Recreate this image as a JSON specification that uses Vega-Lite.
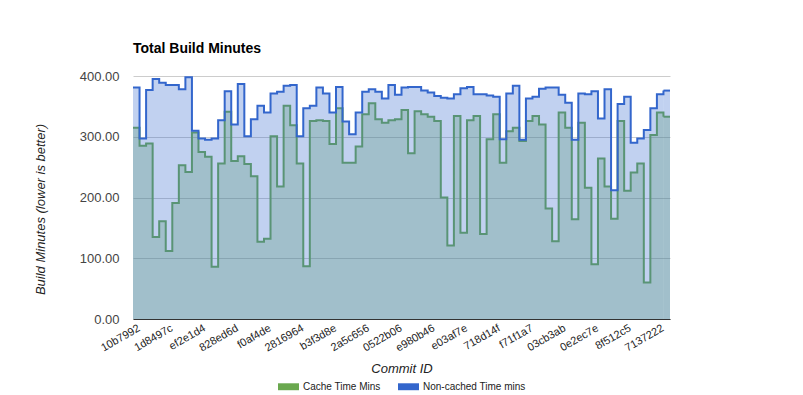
{
  "$schema": "https://vega.github.io/schema/vega-lite/v6.json",
  "width": 537,
  "height": 243,
  "autosize": {"type": "none"},
  "padding": {"left": 133, "top": 76, "right": 133, "bottom": 76},
  "background": "white",
  "config": {"view": {"stroke": null}, "font": "Liberation Sans"},
  "title": {"text": "Total Build Minutes", "anchor": "start", "frame": "group", "font": "Liberation Sans", "fontSize": 14, "fontWeight": "bold", "color": "#000000", "baseline": "alphabetic", "offset": 3},
  "data": {"values": [
    {"commit": "10b7992", "cache": 315, "noncache": 381},
    {"commit": "a3f41c8", "cache": 285, "noncache": 297},
    {"commit": "5e2d9b0", "cache": 289, "noncache": 377},
    {"commit": "c71a6f4", "cache": 135, "noncache": 395},
    {"commit": "9d03e2a", "cache": 161, "noncache": 389},
    {"commit": "1d8497c", "cache": 112, "noncache": 385},
    {"commit": "4b6c0e1", "cache": 191, "noncache": 385},
    {"commit": "e8a2f37", "cache": 253, "noncache": 378},
    {"commit": "72d5b19", "cache": 242, "noncache": 398},
    {"commit": "0c9e4a6", "cache": 307, "noncache": 310},
    {"commit": "ef2e1d4", "cache": 275, "noncache": 297},
    {"commit": "b58a3c2", "cache": 267, "noncache": 295},
    {"commit": "3f17d6e", "cache": 86, "noncache": 297},
    {"commit": "d60b8a9", "cache": 256, "noncache": 327},
    {"commit": "8e4c21f", "cache": 341, "noncache": 375},
    {"commit": "828ed6d", "cache": 260, "noncache": 320},
    {"commit": "61a9f03", "cache": 268, "noncache": 387},
    {"commit": "c2e7b54", "cache": 255, "noncache": 301},
    {"commit": "9a0d3e7", "cache": 235, "noncache": 329},
    {"commit": "47f6c12", "cache": 127, "noncache": 351},
    {"commit": "f0af4de", "cache": 132, "noncache": 340},
    {"commit": "2b83e9a", "cache": 301, "noncache": 371},
    {"commit": "d4c17f0", "cache": 218, "noncache": 374},
    {"commit": "a91e5b6", "cache": 351, "noncache": 384},
    {"commit": "5c3d802", "cache": 319, "noncache": 385},
    {"commit": "2816964", "cache": 256, "noncache": 301},
    {"commit": "e7b40a3", "cache": 87, "noncache": 347},
    {"commit": "0f5c9d1", "cache": 326, "noncache": 351},
    {"commit": "b6a28e4", "cache": 327, "noncache": 381},
    {"commit": "43d1f7c", "cache": 326, "noncache": 371},
    {"commit": "b3f3d8e", "cache": 288, "noncache": 340},
    {"commit": "7a6e0c5", "cache": 347, "noncache": 382},
    {"commit": "c98b2d1", "cache": 257, "noncache": 325},
    {"commit": "16f4a7e", "cache": 257, "noncache": 304},
    {"commit": "f2c05b9", "cache": 284, "noncache": 340},
    {"commit": "2a5c656", "cache": 337, "noncache": 374},
    {"commit": "8d7e3a0", "cache": 355, "noncache": 378},
    {"commit": "5b19c4f", "cache": 329, "noncache": 374},
    {"commit": "a0e6d82", "cache": 323, "noncache": 363},
    {"commit": "3c4f9b7", "cache": 327, "noncache": 385},
    {"commit": "0522b06", "cache": 329, "noncache": 369},
    {"commit": "d9a7e13", "cache": 344, "noncache": 381},
    {"commit": "6e2b8c0", "cache": 273, "noncache": 382},
    {"commit": "94f3a5d", "cache": 342, "noncache": 382},
    {"commit": "c1d80e6", "cache": 337, "noncache": 376},
    {"commit": "e980b46", "cache": 333, "noncache": 373},
    {"commit": "7f25c9a", "cache": 326, "noncache": 367},
    {"commit": "b4e13d8", "cache": 200, "noncache": 364},
    {"commit": "2d6a7f0", "cache": 121, "noncache": 363},
    {"commit": "58c0e92", "cache": 334, "noncache": 370},
    {"commit": "e03af7e", "cache": 142, "noncache": 380},
    {"commit": "a6d49b3", "cache": 327, "noncache": 382},
    {"commit": "1e8c5f7", "cache": 334, "noncache": 370},
    {"commit": "f5b270d", "cache": 140, "noncache": 370},
    {"commit": "83a6e1c", "cache": 296, "noncache": 368},
    {"commit": "718d14f", "cache": 337, "noncache": 366},
    {"commit": "c3e9a05", "cache": 257, "noncache": 296},
    {"commit": "4a7d2b8", "cache": 309, "noncache": 371},
    {"commit": "9f0c6e3", "cache": 315, "noncache": 384},
    {"commit": "d25b81a", "cache": 293, "noncache": 295},
    {"commit": "f71f1a7", "cache": 326, "noncache": 363},
    {"commit": "6c84d2e", "cache": 334, "noncache": 366},
    {"commit": "b1a3f59", "cache": 320, "noncache": 379},
    {"commit": "e4d07c6", "cache": 182, "noncache": 381},
    {"commit": "57b9e2a", "cache": 128, "noncache": 381},
    {"commit": "03cb3ab", "cache": 340, "noncache": 369},
    {"commit": "a8f2d61", "cache": 315, "noncache": 356},
    {"commit": "3d5e0b9", "cache": 164, "noncache": 295},
    {"commit": "c6a14f7", "cache": 323, "noncache": 371},
    {"commit": "91e8d3c", "cache": 216, "noncache": 370},
    {"commit": "0e2ec7e", "cache": 90, "noncache": 375},
    {"commit": "f4b6a28", "cache": 264, "noncache": 330},
    {"commit": "28d9c5e", "cache": 218, "noncache": 378},
    {"commit": "b7e03a1", "cache": 165, "noncache": 212},
    {"commit": "6a15f8d", "cache": 326, "noncache": 354},
    {"commit": "8f512c5", "cache": 211, "noncache": 366},
    {"commit": "d3c7e40", "cache": 241, "noncache": 290},
    {"commit": "4e0a9b6", "cache": 256, "noncache": 297},
    {"commit": "a2f58d3", "cache": 60, "noncache": 311},
    {"commit": "e6b3c17", "cache": 303, "noncache": 347},
    {"commit": "7137222", "cache": 340, "noncache": 370},
    {"commit": "c59d2e8", "cache": 333, "noncache": 376}
  ]},
  "encoding": {
    "x": {
      "field": "commit", "type": "nominal", "sort": null, "bandPosition": 0,
      "scale": {"type": "band", "paddingInner": 0, "paddingOuter": 0},
      "axis": {
        "values": ["10b7992", "1d8497c", "ef2e1d4", "828ed6d", "f0af4de", "2816964", "b3f3d8e", "2a5c656", "0522b06", "e980b46", "e03af7e", "718d14f", "f71f1a7", "03cb3ab", "0e2ec7e", "8f512c5", "7137222"],
        "title": "Commit ID", "titleFont": "Liberation Sans", "titleFontStyle": "italic", "titleFontWeight": "normal", "titleFontSize": 13, "titleColor": "#222222", "titleY": 49, "titleBaseline": "middle",
        "labelAngle": -30, "labelAlign": "right", "labelBaseline": "top", "labelFont": "Liberation Sans", "labelFontSize": 11, "labelColor": "#222222", "labelPadding": 3, "labelOverlap": false,
        "ticks": false, "domain": true, "domainColor": "#333333", "domainWidth": 1, "grid": false
      }
    }
  },
  "layer": [
    {
      "mark": {"type": "area", "interpolate": "step-after", "opacity": 0.3},
      "encoding": {
        "y": {"field": "cache", "type": "quantitative", "scale": {"domain": [0, 400]},
          "axis": {"values": [0, 100, 200, 300, 400], "format": ".2f", "title": "Build Minutes (lower is better)", "titleFont": "Liberation Sans", "titleFontStyle": "italic", "titleFontWeight": "normal", "titleFontSize": 13, "titleColor": "#222222", "titleX": -93, "titleY": 133, "titleAngle": -90, "titleBaseline": "middle", "titleAlign": "center", "labelFont": "Liberation Sans", "labelFontSize": 13, "labelColor": "#444444", "labelPadding": 14, "ticks": false, "domain": false, "grid": true, "gridColor": "#cccccc", "gridWidth": 1}},
        "color": {"datum": "Cache Time Mins", "type": "nominal",
          "scale": {"domain": ["Cache Time Mins", "Non-cached Time mins"], "range": ["#6aa84f", "#3366cc"]},
          "legend": {"orient": "none", "legendX": 145, "legendY": 300, "direction": "horizontal", "title": null, "symbolType": "M-1,-0.33H1V0.33H-1Z", "symbolSize": 441, "symbolStrokeWidth": 0, "symbolOpacity": 1, "labelFont": "Liberation Sans", "labelFontSize": 10, "labelColor": "#222222", "labelOffset": 4, "columnPadding": 17, "padding": 0,
            "encode": {"symbols": {"update": {"opacity": {"value": 1}, "fillOpacity": {"value": 1}, "strokeWidth": {"value": 0}}}}}}
      }
    },
    {
      "transform": [{"filter": {"field": "commit", "equal": "c59d2e8"}}],
      "mark": {"type": "bar", "color": "#6aa84f", "opacity": 0.3},
      "encoding": {
        "x": {"field": "commit", "type": "nominal", "sort": null, "scale": {"type": "band", "paddingInner": 0, "paddingOuter": 0}},
        "y": {"field": "cache", "type": "quantitative"}
      }
    },
    {
      "mark": {"type": "line", "interpolate": "step-after", "color": "#6aa84f", "strokeWidth": 2},
      "encoding": {"y": {"field": "cache", "type": "quantitative"}}
    },
    {
      "transform": [{"filter": {"field": "commit", "equal": "c59d2e8"}}],
      "mark": {"type": "tick", "orient": "horizontal", "color": "#6aa84f", "thickness": 2, "size": 6.55, "opacity": 1},
      "encoding": {
        "x": {"field": "commit", "type": "nominal", "sort": null, "scale": {"type": "band", "paddingInner": 0, "paddingOuter": 0}},
        "y": {"field": "cache", "type": "quantitative"}
      }
    },
    {
      "mark": {"type": "area", "interpolate": "step-after", "opacity": 0.3},
      "encoding": {
        "y": {"field": "noncache", "type": "quantitative"},
        "color": {"datum": "Non-cached Time mins", "type": "nominal"}
      }
    },
    {
      "transform": [{"filter": {"field": "commit", "equal": "c59d2e8"}}],
      "mark": {"type": "bar", "color": "#3366cc", "opacity": 0.3},
      "encoding": {
        "x": {"field": "commit", "type": "nominal", "sort": null, "scale": {"type": "band", "paddingInner": 0, "paddingOuter": 0}},
        "y": {"field": "noncache", "type": "quantitative"}
      }
    },
    {
      "mark": {"type": "line", "interpolate": "step-after", "color": "#3366cc", "strokeWidth": 2},
      "encoding": {"y": {"field": "noncache", "type": "quantitative"}}
    },
    {
      "transform": [{"filter": {"field": "commit", "equal": "c59d2e8"}}],
      "mark": {"type": "tick", "orient": "horizontal", "color": "#3366cc", "thickness": 2, "size": 6.55, "opacity": 1},
      "encoding": {
        "x": {"field": "commit", "type": "nominal", "sort": null, "scale": {"type": "band", "paddingInner": 0, "paddingOuter": 0}},
        "y": {"field": "noncache", "type": "quantitative"}
      }
    }
  ]
}
